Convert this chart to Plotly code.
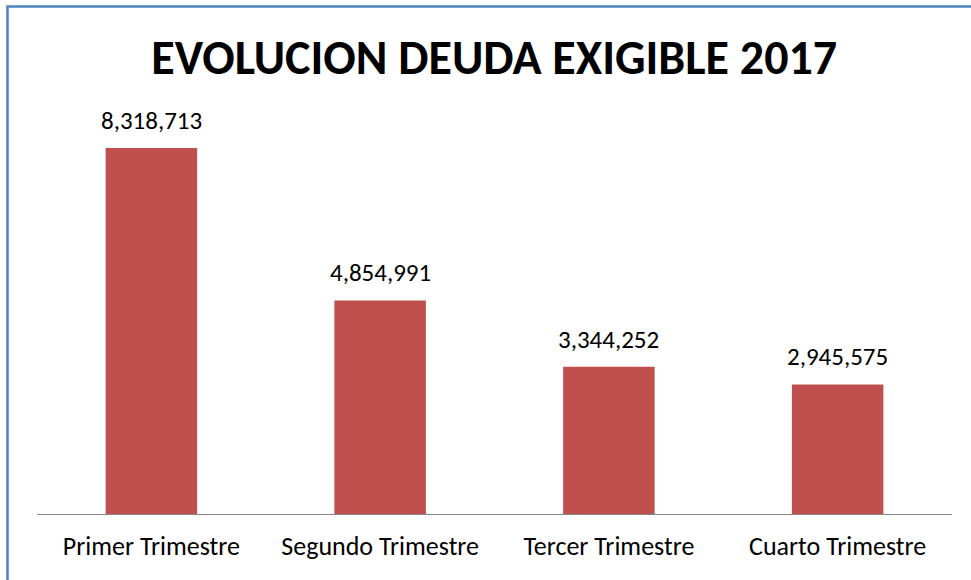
import plotly.graph_objects as go

categories = ["Primer Trimestre", "Segundo Trimestre", "Tercer Trimestre", "Cuarto Trimestre"]
values = [8318713, 4854991, 3344252, 2945575]
labels = [f"{v:,}" for v in values]

W, H = 971, 580
ml, mr, mt, mb = 37, 19, 118, 66
pw, ph = W - ml - mr, H - mt - mb
FONT = "Carlito, Calibri, Lato, sans-serif"

def px_to_paper_x(x):
    return (x - ml) / pw

def px_to_paper_y(y):
    return (H - mb - y) / ph

fig = go.Figure(go.Bar(
    x=categories, y=values,
    marker=dict(color="#C0504D", line=dict(width=0)),
    hoverinfo="skip",
))

for c, v, t in zip(categories, values, labels):
    fig.add_annotation(x=c, y=v, text=t, showarrow=False, yanchor="bottom",
                       yshift=10, font=dict(family=FONT, size=25, color="#000000"))

fig.update_layout(
    width=W, height=H,
    margin=dict(l=ml, r=mr, t=mt, b=mb),
    paper_bgcolor="white", plot_bgcolor="white",
    bargap=0.6,
    showlegend=False,
    title=dict(text="<b>EVOLUCION DEUDA EXIGIBLE 2017</b>", x=0.509, xanchor="center",
               y=1 - 57 / H, yanchor="middle",
               font=dict(family=FONT, size=48, color="#000000")),
    xaxis=dict(showline=True, linecolor="#868686", linewidth=1, ticks="",
               tickfont=dict(family=FONT, size=26, color="#000000"),
               ticklabelstandoff=9, showgrid=False),
    yaxis=dict(range=[0, 9000000], visible=False, showgrid=False),
    shapes=[dict(type="rect", xref="paper", yref="paper",
                 x0=px_to_paper_x(7.5), x1=px_to_paper_x(1000),
                 y0=px_to_paper_y(6.5), y1=px_to_paper_y(640),
                 line=dict(color="#4F81BD", width=2.5), fillcolor="rgba(0,0,0,0)")],
)

fig.write_html("out.html", config={"displayModeBar": False},
               post_script="document.body.style.margin='0';")
